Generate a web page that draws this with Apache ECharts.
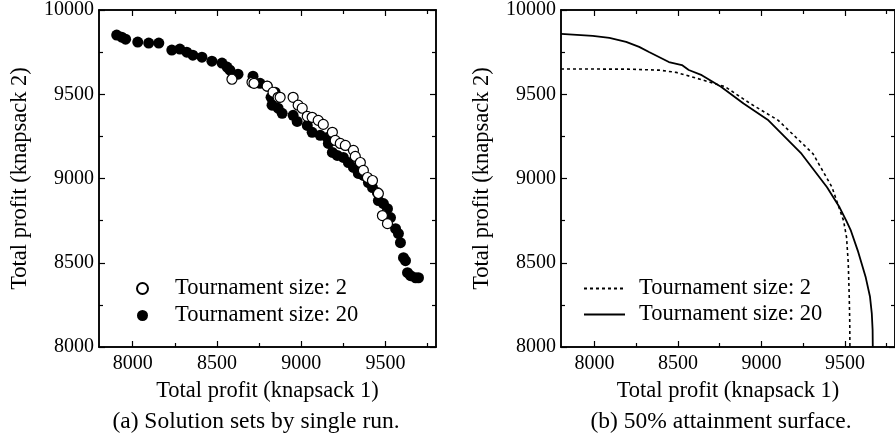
<!DOCTYPE html>
<html>
<head>
<meta charset="utf-8">
<script src="https://cdn.jsdelivr.net/npm/echarts@6/dist/echarts.min.js"></script>
<style>
  html, body { margin: 0; padding: 0; background: #fff; }
  #chart { width: 895px; height: 439px; }
</style>
</head>
<body>
<div id="chart"></div>
<script>
// Axis ranges and tick positions (both panels share them)
const xRange = [7800, 9800];
const yRange = [8000, 10000];
const xMajorTicks = [8000, 8500, 9000, 9500];
const xMinorTicks = [8250, 8750, 9250, 9750];
const yMajorTicks = [8000, 8500, 9000, 9500, 10000];
const yMinorTicks = [8250, 8750, 9250, 9750];

const xAxisTitle = 'Total profit (knapsack 1)';
const yAxisTitle = 'Total profit (knapsack 2)';
const captions = ['(a) Solution sets by single run.', '(b) 50% attainment surface.'];
const legendLabels = ['Tournament size: 2', 'Tournament size: 20'];

// (a) non-dominated solutions of one run, tournament size 2
const runSize2 = [
  [8589, 9589], [8708, 9571], [8720, 9565], [8798, 9548], [8833, 9512],
  [8863, 9482], [8875, 9482], [8952, 9482], [8982, 9435], [9006, 9417],
  [9036, 9369], [9065, 9363], [9101, 9345], [9131, 9321], [9185, 9274],
  [9202, 9226], [9232, 9208], [9262, 9196], [9310, 9167], [9321, 9131],
  [9351, 9095], [9369, 9048], [9393, 9006], [9423, 8988], [9458, 8911],
  [9482, 8780], [9512, 8732]
];

// (a) non-dominated solutions of one run, tournament size 20
const runSize20 = [
  [7905, 9851], [7935, 9839], [7958, 9827], [8030, 9810], [8095, 9804],
  [8155, 9804], [8232, 9762], [8280, 9768], [8321, 9750], [8357, 9732],
  [8411, 9720], [8470, 9696], [8530, 9685], [8560, 9661], [8577, 9643],
  [8625, 9619], [8714, 9607], [8756, 9565], [8798, 9548], [8845, 9512],
  [8821, 9482], [8827, 9435], [8863, 9417], [8887, 9387], [8952, 9375],
  [8976, 9339], [9036, 9315], [9065, 9274], [9113, 9256], [9155, 9244],
  [9161, 9208], [9185, 9155], [9214, 9137], [9250, 9125], [9280, 9095],
  [9310, 9066], [9339, 9030], [9369, 9018], [9399, 8976], [9423, 8946],
  [9452, 8917], [9458, 8869], [9488, 8851], [9512, 8821], [9530, 8768],
  [9560, 8702], [9577, 8673], [9589, 8619], [9607, 8530], [9619, 8512],
  [9631, 8441], [9649, 8423], [9679, 8411], [9696, 8411]
];

// (b) 50% attainment surface, tournament size 2
const surfSize2 = [
  [7800, 9650], [8200, 9649], [8387, 9643], [8488, 9630], [8585, 9603],
  [8684, 9574], [8784, 9544], [8933, 9445], [9101, 9345], [9309, 9147],
  [9423, 8948], [9464, 8829], [9492, 8750], [9510, 8650], [9520, 8500],
  [9526, 8300], [9529, 8150], [9530, 8000]
];

// (b) 50% attainment surface, tournament size 20
const surfSize20 = [
  [7800, 9858], [7990, 9846], [8090, 9834], [8190, 9811], [8268, 9781],
  [8327, 9751], [8446, 9691], [8524, 9673], [8565, 9644], [8643, 9613],
  [8758, 9544], [8893, 9445], [9042, 9345], [9240, 9147], [9393, 8948],
  [9468, 8829], [9508, 8750], [9536, 8690], [9577, 8572], [9625, 8412],
  [9650, 8300], [9661, 8200], [9666, 8100], [9667, 8000]
];

const FONT = 'Liberation Serif, Times New Roman, serif';
const INK = '#000';

// Panel frames
const grids = [
  { left: 99, top: 10, width: 337, height: 337 },
  { left: 561, top: 10, width: 337, height: 337 }
];

// One axis per side and tick set: bottom/left carry labels and titles,
// top/right mirror the inward ticks.
function axis(dim, gridIndex, position, ticks, tickLen, opts) {
  const range = dim === 'x' ? xRange : yRange;
  return Object.assign({
    type: 'value',
    gridIndex: gridIndex,
    position: position,
    min: range[0],
    max: range[1],
    splitLine: { show: false },
    axisLine: { show: true, onZero: false, lineStyle: { color: INK, width: 1.5 } },
    axisTick: { show: true, inside: true, length: tickLen, customValues: ticks,
                lineStyle: { color: INK, width: 1.2 } },
    axisLabel: { show: false },
    minorTick: { show: false }
  }, opts || {});
}

const plain = v => String(v);

const xAxes = [];
const yAxes = [];
for (let g = 0; g < 2; g++) {
  xAxes.push(axis('x', g, 'bottom', xMajorTicks, 6, {
    axisLabel: { show: true, customValues: xMajorTicks, margin: 7, formatter: plain,
                 color: INK, fontFamily: FONT, fontSize: 20 },
    name: xAxisTitle, nameLocation: 'middle', nameGap: 33,
    nameTextStyle: { color: INK, fontFamily: FONT, fontSize: 22.5 }
  }));
  xAxes.push(axis('x', g, 'bottom', xMinorTicks, 4));
  xAxes.push(axis('x', g, 'top', xMajorTicks, 6));
  xAxes.push(axis('x', g, 'top', xMinorTicks, 4));

  yAxes.push(axis('y', g, 'left', yMajorTicks, 6, {
    axisLabel: { show: true, customValues: yMajorTicks, margin: 5, formatter: plain,
                 color: INK, fontFamily: FONT, fontSize: 20 },
    name: yAxisTitle, nameLocation: 'middle', nameGap: 67,
    nameTextStyle: { color: INK, fontFamily: FONT, fontSize: 22.5 }
  }));
  yAxes.push(axis('y', g, 'left', yMinorTicks, 4));
  yAxes.push(axis('y', g, 'right', yMajorTicks, 6));
  yAxes.push(axis('y', g, 'right', yMinorTicks, 4));
}

const legendText = { fontFamily: FONT, fontSize: 22.5, color: INK };

const option = {
  backgroundColor: '#fff',
  animation: false,
  grid: grids,
  xAxis: xAxes,
  yAxis: yAxes,
  title: [
    { text: captions[0], left: 251, top: 405, textAlign: 'center',
      textStyle: { fontFamily: FONT, fontSize: 23.5, fontWeight: 'normal', color: INK } },
    { text: captions[1], left: 716, top: 405, textAlign: 'center',
      textStyle: { fontFamily: FONT, fontSize: 23.5, fontWeight: 'normal', color: INK } }
  ],
  legend: [
    {
      data: ['run2', 'run20'],
      orient: 'vertical',
      left: 136, top: 277, padding: 0,
      itemWidth: 11, itemHeight: 11, itemGap: 4,
      formatter: name => '{t|' + (name === 'run2' ? legendLabels[0] : legendLabels[1]) + '}',
      textStyle: Object.assign({ rich: { t: Object.assign({ padding: [0, 0, 0, 22] }, legendText) } }, legendText),
      selectedMode: false
    },
    {
      data: ['surf2', 'surf20'],
      orient: 'vertical',
      left: 583, top: 277, padding: 0,
      itemWidth: 41, itemHeight: 12, itemGap: 3,
      itemStyle: { opacity: 0 },
      formatter: name => '{t|' + (name === 'surf2' ? legendLabels[0] : legendLabels[1]) + '}',
      textStyle: Object.assign({ rich: { t: Object.assign({ padding: [0, 0, 0, 9] }, legendText) } }, legendText),
      selectedMode: false
    }
  ],
  series: [
    {
      name: 'run20', type: 'scatter', xAxisIndex: 0, yAxisIndex: 0,
      data: runSize20, symbol: 'circle', symbolSize: 11, z: 2,
      itemStyle: { color: INK, borderColor: INK, borderWidth: 0, opacity: 1 }
    },
    {
      name: 'run2', type: 'scatter', xAxisIndex: 0, yAxisIndex: 0,
      data: runSize2, symbol: 'circle', symbolSize: 10, z: 3,
      itemStyle: { color: '#fff', borderColor: INK, borderWidth: 1.2, opacity: 1 }
    },
    {
      name: 'surf2', type: 'line', xAxisIndex: 4, yAxisIndex: 4,
      data: surfSize2, symbol: 'none', showSymbol: false,
      lineStyle: { color: INK, width: 1.6, type: [3, 3] }, itemStyle: { color: INK }
    },
    {
      name: 'surf20', type: 'line', xAxisIndex: 4, yAxisIndex: 4,
      data: surfSize20, symbol: 'none', showSymbol: false,
      lineStyle: { color: INK, width: 1.8, type: 'solid' }, itemStyle: { color: INK }
    }
  ]
};

const chart = echarts.init(document.getElementById('chart'), null, { renderer: 'canvas' });
chart.setOption(option);
</script>
</body>
</html>
